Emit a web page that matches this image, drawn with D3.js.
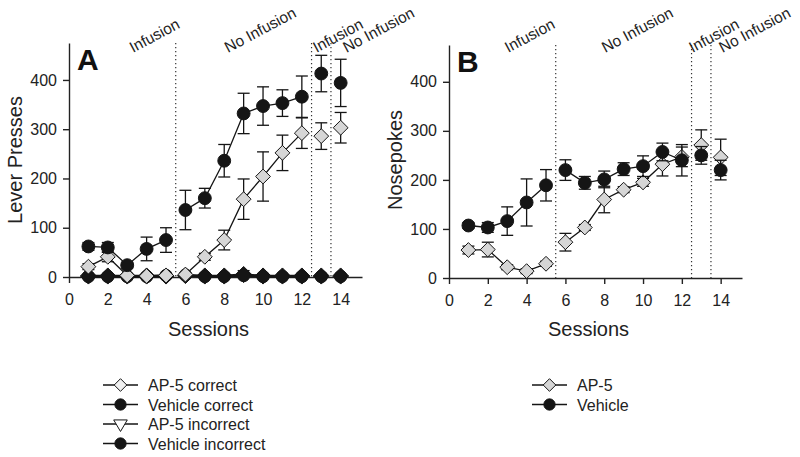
<!DOCTYPE html>
<html><head><meta charset="utf-8">
<script src="https://cdn.jsdelivr.net/npm/d3@7"></script>
<style>body{margin:0;background:#fff}svg{display:block}text{font-family:"Liberation Sans",Arial,sans-serif;fill:#222}</style>
</head><body><svg id="c" width="800" height="457"></svg>
<script>
const sessions = [1,2,3,4,5,6,7,8,9,10,11,12,13,14];
const phaseGroups = [[1,5],[6,12],[13,13],[14,14]];
const phaseBounds = [5.5, 12.5, 13.5];
const phaseLabels = ["Infusion","No Infusion","Infusion","No Infusion"];
const phaseLabelPosA = [3.3, 8.2, 12.75, 14.3];
const phaseLabelPosB = [3.05, 8.05, 12.55, 14.1];
const yTicks = [0,100,200,300,400];
const xTicks = [0,2,4,6,8,10,12,14];

// Panel A
const aAp5Correct    = [21,41,3,2,3,5,41,75,158,204,252,292,286,303];
const aAp5CorrectErr = [6,10,3,2,3,3,7,20,41,50,36,31,27,31];
const aVehCorrect    = [62,60,24,57,75,136,160,236,332,347,353,366,413,394];
const aVehCorrectErr = [8,10,6,24,25,40,20,33,41,39,27,42,37,48];
const aAp5Incorrect    = [2,2,2,2,2,3,2,2,5,2,2,2,2,2];
const aAp5IncorrectErr = [1,1,1,1,1,2,1,1,8,1,1,1,1,1];
const aVehIncorrect    = [1,1,1,1,3,4,1,1,3,1,1,1,1,1];
const aVehIncorrectErr = [1,1,1,1,2,3,1,1,4,1,1,1,1,1];

// Panel B
const bAp5    = [57,58,22,14,29,73,103,160,180,195,232,247,271,246];
const bAp5Err = [8,15,5,5,5,18,6,27,6,8,24,20,31,37];
const bVeh    = [107,103,116,154,189,220,194,201,222,228,257,240,250,220];
const bVehErr = [6,10,29,48,32,21,13,17,13,21,18,32,18,20];

const svg = d3.select("#c");
const GRAY = "#d6d6d6", BLACK = "#151515";

const diamond = {draw(ctx,size){const r=Math.sqrt(size/2);ctx.moveTo(0,-r);ctx.lineTo(r,0);ctx.lineTo(0,r);ctx.lineTo(-r,0);ctx.closePath();}};
const triDown = {draw(ctx,size){const r=Math.sqrt(size/1.3);ctx.moveTo(-r,-r*0.6);ctx.lineTo(r,-r*0.6);ctx.lineTo(0,r*1.1);ctx.closePath();}};

function panel(opt){
  const x = d3.scaleLinear().domain([0,15.1]).range(opt.xr);
  const y = d3.scaleLinear().domain([0,475]).range(opt.yr);
  const g = svg.append("g");
  const xa = g.append("g").attr("transform",`translate(0,${opt.yr[0]})`)
    .call(d3.axisBottom(x).tickValues(xTicks).tickSize(6).tickPadding(11).tickSizeOuter(0));
  const ya = g.append("g").attr("transform",`translate(${opt.xr[0]},0)`)
    .call(d3.axisLeft(y).tickValues(yTicks).tickSize(6).tickPadding(6).tickSizeOuter(0));
  [xa,ya].forEach(a=>{
    a.selectAll("path,line").attr("stroke","#222").attr("stroke-width",1.4);
    a.selectAll("text").attr("font-size",16).style("fill","#222");
  });
  phaseBounds.forEach(b=>{
    g.append("line").attr("x1",x(b)).attr("x2",x(b)).attr("y1",opt.yr[1]).attr("y2",opt.yr[0])
      .attr("stroke","#333").attr("stroke-width",1.2).attr("stroke-dasharray","1.2,2.8");
  });
  phaseLabels.forEach((t,i)=>{
    const px = x(opt.labelPos[i]);
    g.append("text").attr("transform",`translate(${px},${opt.labelY}) rotate(-28)`)
      .attr("font-size",15.5).text(t);
  });
  g.append("text").attr("x",opt.xr[0]+8).attr("y",opt.yr[1]+27).attr("font-size",30)
    .attr("font-weight","bold").style("fill","#111").text(opt.letter);
  g.append("text").attr("transform",`translate(${opt.ytx},160) rotate(-90)`).attr("text-anchor","middle")
    .attr("font-size",20).text(opt.ytitle);
  g.append("text").attr("x",(opt.xr[0]+opt.xr[1])/2-7).attr("y",336).attr("text-anchor","middle")
    .attr("font-size",20).text("Sessions");

  opt.series.forEach(s=>{
    const pts = sessions.map((d,i)=>({s:d,v:s.values[i],e:s.err[i]}));
    phaseGroups.forEach(([a,b])=>{
      const seg = pts.filter(p=>p.s>=a && p.s<=b);
      if(seg.length>1) g.append("path").datum(seg)
        .attr("d",d3.line().x(p=>x(p.s)).y(p=>y(p.v)))
        .attr("fill","none").attr("stroke",BLACK).attr("stroke-width",s.lw||1.3);
    });
    pts.forEach(p=>{
      const cx=x(p.s), y1=y(p.v+p.e), y2=y(Math.max(0,p.v-p.e));
      g.append("line").attr("x1",cx).attr("x2",cx).attr("y1",y1).attr("y2",y2).attr("stroke",BLACK).attr("stroke-width",1.3);
      [y1,y2].forEach(yy=>g.append("line").attr("x1",cx-6).attr("x2",cx+6).attr("y1",yy).attr("y2",yy).attr("stroke",BLACK).attr("stroke-width",1.3));
    });
    pts.forEach(p=>{
      g.append("path").attr("transform",`translate(${x(p.s)},${y(p.v)})`)
        .attr("d",d3.symbol().type(s.symbol).size(s.size)())
        .attr("fill",s.fill).attr("stroke",BLACK).attr("stroke-width",1);
    });
  });
}

panel({xr:[69,362], yr:[277,43], letter:"A", ytitle:"Lever Presses", ytx:22,
  labelPos:phaseLabelPosA, labelY:53,
  series:[
    {values:aAp5Incorrect, err:aAp5IncorrectErr, symbol:diamond, size:130, fill:BLACK, lw:2.5},
    {values:aVehIncorrect, err:aVehIncorrectErr, symbol:d3.symbolCircle, size:120, fill:BLACK, lw:2.5},
    {values:aAp5Correct, err:aAp5CorrectErr, symbol:diamond, size:110, fill:GRAY},
    {values:aVehCorrect, err:aVehCorrectErr, symbol:d3.symbolCircle, size:130, fill:BLACK}
  ]});

panel({xr:[449,742], yr:[278,45], letter:"B", ytitle:"Nosepokes", ytx:402,
  labelPos:phaseLabelPosB, labelY:53,
  series:[
    {values:bAp5, err:bAp5Err, symbol:diamond, size:110, fill:GRAY},
    {values:bVeh, err:bVehErr, symbol:d3.symbolCircle, size:130, fill:BLACK}
  ]});

const legendA = ["AP-5 correct","Vehicle correct","AP-5 incorrect","Vehicle incorrect"];
const legendASym = [{t:diamond,f:"#f0f0f0",s:80},{t:d3.symbolCircle,f:BLACK,s:100},{t:triDown,f:"#fff",s:60},{t:d3.symbolCircle,f:BLACK,s:100}];
const legendB = ["AP-5","Vehicle"];
const legendBSym = [{t:diamond,f:GRAY,s:80},{t:d3.symbolCircle,f:BLACK,s:100}];
function legend(items,syms,x0,y0){
  items.forEach((t,i)=>{
    const yy=y0+i*19.5;
    svg.append("line").attr("x1",x0).attr("x2",x0+35).attr("y1",yy).attr("y2",yy).attr("stroke",BLACK).attr("stroke-width",1.3);
    svg.append("path").attr("transform",`translate(${x0+17.5},${yy})`).attr("d",d3.symbol().type(syms[i].t).size(syms[i].s)())
      .attr("fill",syms[i].f).attr("stroke",BLACK).attr("stroke-width",1);
    svg.append("text").attr("x",x0+45).attr("y",yy+6).attr("font-size",16).text(t);
  });
}
legend(legendA,legendASym,103,385);
legend(legendB,legendBSym,532,385);
</script></body></html>
